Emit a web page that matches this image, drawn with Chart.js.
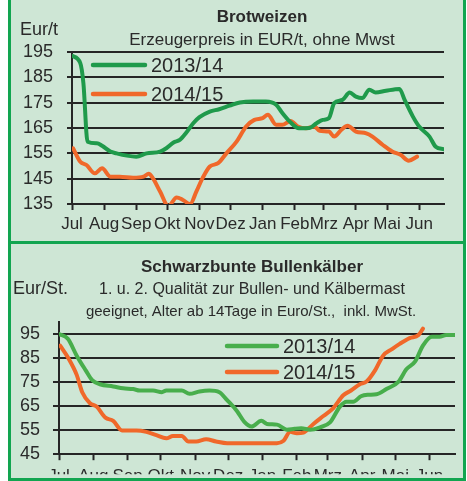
<!DOCTYPE html>
<html lang="de">
<head>
<meta charset="utf-8">
<title>Brotweizen / Bullenkälber</title>
<script src="https://cdn.jsdelivr.net/npm/chart.js@4.4.1/dist/chart.umd.min.js"></script>
<style>
    html, body { margin: 0; padding: 0; background: #ffffff; }
    .panel {
        position: absolute;
        left: 8px;
        width: 452px;
        background: #cee6d5;
        border-left: 3px solid #12a550;
        border-right: 3px solid #12a550;
        border-bottom: 3px solid #12a550;
        overflow: hidden;
    }
    #panelWeizen { top: 0; height: 241px; }
    #panelKaelber { top: 244px; height: 234px; }
    canvas { display: block; }
</style>
</head>
<body>
<div class="panel" id="panelWeizen"><canvas id="chartWeizen" width="452" height="241"></canvas></div>
<div class="panel" id="panelKaelber"><canvas id="chartKaelber" width="452" height="234"></canvas></div>

<script>
// Monate (Wirtschaftsjahr Juli - Juni), Position = Tag ab 1. Juli
const monthLabels = ['Jul', 'Aug', 'Sep', 'Okt', 'Nov', 'Dez', 'Jan', 'Feb', 'Mrz', 'Apr', 'Mai', 'Jun'];
const monthStartDays = [0, 31, 62, 92, 123, 153, 184, 215, 243, 274, 304, 335];
const seasonLabels = ['2013/14', '2014/15'];

// Brotweizen - Erzeugerpreis EUR/t
const weizenTicks = [135, 145, 155, 165, 175, 185, 195];
const weizenDays13 = [0, 8, 11, 15, 24, 29, 37, 43, 53, 62, 72, 85, 91, 98, 104, 110, 117, 123, 133, 142, 152, 162, 175, 187, 197, 203, 210, 219, 229, 236, 242, 248, 253, 261, 268, 274, 280, 287, 293, 303, 316, 321, 329, 335, 345, 351, 359];
const weizenPrice13 = [193.5, 190.6, 182.7, 159.6, 159, 158, 155.7, 155, 154.1, 153.7, 155, 155.7, 157, 159.3, 160.3, 163, 166.9, 169.3, 171.5, 172.4, 173.8, 175.1, 175.5, 175.5, 174.2, 170.9, 167.6, 164.9, 165, 166.9, 168.2, 168.9, 174.8, 176.1, 179, 177.4, 176.8, 180.1, 179, 179.7, 180.4, 176.1, 169.5, 165.6, 161.6, 157.6, 156.6];
const weizenDays14 = [1, 8, 14, 22, 29, 37, 46, 59, 69, 74, 78, 85, 93, 101, 107, 114, 120, 126, 133, 141, 149, 159, 168, 176, 184, 189, 197, 203, 211, 218, 226, 234, 239, 248, 253, 260, 266, 274, 284, 290, 300, 309, 317, 325, 333];
const weizenPrice14 = [157, 151.7, 150.4, 147.1, 149.1, 145.8, 145.8, 145.4, 145.8, 146.9, 145.2, 139.9, 134.2, 137.6, 136.6, 135, 139.9, 145.2, 149.8, 151.1, 155, 159.7, 165.6, 168.2, 168.9, 170.2, 166.3, 166.3, 167.8, 165.6, 164.9, 165.6, 163.9, 163.6, 161.6, 164.3, 165.9, 163.6, 162.9, 161.6, 158.3, 155.7, 154.4, 152.1, 153.7];

// Schwarzbunte Bullenkälber - Euro/St.
const kaelberTicks = [45, 55, 65, 75, 85, 95];
const kaelberDays13 = [0, 8, 16, 24, 30, 37, 49, 58, 67, 73, 85, 93, 97, 111, 118, 127, 136, 145, 152, 161, 168, 174, 183, 188, 197, 206, 213, 219, 227, 236, 245, 254, 260, 266, 273, 279, 287, 296, 307, 314, 322, 329, 337, 344, 350, 358];
const kaelberPrice13 = [95, 93, 86, 80, 75.8, 74.1, 73.2, 72.4, 72.1, 71.5, 71.5, 70.8, 71.5, 71.5, 70.1, 71.1, 71.5, 70.8, 67.5, 62.9, 58.2, 56.5, 58.9, 57.6, 57.3, 55.2, 55.6, 55.8, 55.2, 56.2, 58.2, 64.8, 66.8, 66.8, 69.1, 69.7, 69.9, 72.1, 75.2, 80.3, 83.6, 90.2, 93.9, 93.9, 94.6, 94.6];
const kaelberDays14 = [1, 8, 16, 21, 28, 34, 42, 49, 57, 70, 79, 88, 97, 103, 111, 117, 124, 133, 142, 152, 176, 197, 203, 209, 215, 221, 230, 239, 248, 257, 264, 272, 278, 286, 293, 301, 308, 317, 325, 329];
const kaelberPrice14 = [90.2, 85.3, 78, 70.8, 66.2, 64.8, 60.2, 58.9, 54.9, 54.9, 54.3, 52.9, 51.6, 52.6, 52.6, 50.3, 50.3, 51.2, 50.3, 49.6, 49.6, 49.6, 50.6, 54.3, 53.7, 54, 57.6, 60.9, 64.2, 69.5, 71.5, 74.1, 75.2, 80.1, 86, 88.7, 90.9, 93.3, 94.6, 97.2];

const FONT = "'Liberation Sans', Arial, sans-serif";
const TEXT_COLOR = '#2a2a2a';
const GRID_COLOR = '#262626';
const ORANGE = '#f0682a';

function toPoints(days, values) {
    return days.map((d, i) => ({ x: d, y: values[i] }));
}

// Titel, Einheit und Legende (Legende liegt im Diagramm)
const textPlugin = {
    id: 'panelTexts',
    afterDraw(chart, args, opts) {
        const ctx = chart.ctx;
        ctx.save();
        ctx.fillStyle = TEXT_COLOR;
        ctx.textBaseline = 'middle';
        (opts.texts || []).forEach(t => {
            ctx.font = (t.bold ? 'bold ' : '') + t.size + 'px ' + FONT;
            ctx.textAlign = t.align || 'left';
            ctx.fillText(t.text, t.x, t.y);
        });
        const lg = opts.legend;
        if (lg) {
            chart.data.datasets.forEach((ds, i) => {
                const y = lg.y + i * lg.gap;
                ctx.strokeStyle = ds.borderColor;
                ctx.lineWidth = 4.5;
                ctx.lineCap = 'round';
                ctx.beginPath();
                ctx.moveTo(lg.x, y);
                ctx.lineTo(lg.x + lg.len, y);
                ctx.stroke();
                ctx.font = lg.size + 'px ' + FONT;
                ctx.textAlign = 'left';
                ctx.fillStyle = TEXT_COLOR;
                ctx.fillText(ds.label, lg.x + lg.len + 6, y + 1);
            });
        }
        ctx.restore();
    }
};

function buildChart(canvasId, cfg) {
    const canvas = document.getElementById(canvasId);
    const lineStyle = {
        borderWidth: 4,
        pointRadius: 0,
        cubicInterpolationMode: 'monotone',
        borderJoinStyle: 'round',
        borderCapStyle: 'round'
    };
    return new Chart(canvas.getContext('2d'), {
        type: 'line',
        data: {
            datasets: [
                Object.assign({ label: seasonLabels[0], data: cfg.series13, borderColor: cfg.green }, lineStyle),
                Object.assign({ label: seasonLabels[1], data: cfg.series14, borderColor: ORANGE }, lineStyle)
            ]
        },
        options: {
            responsive: false,
            animation: false,
            layout: { padding: cfg.padding },
            plugins: {
                legend: { display: false },
                tooltip: { enabled: false },
                title: { display: false },
                panelTexts: { texts: cfg.texts, legend: cfg.legend }
            },
            scales: {
                x: {
                    type: 'linear',
                    min: 0,
                    max: cfg.xMax,
                    afterBuildTicks: axis => { axis.ticks = monthStartDays.map(v => ({ value: v })); },
                    afterFit: axis => { axis.height = cfg.xHeight; },
                    ticks: {
                        autoSkip: false,
                        maxRotation: 0,
                        padding: cfg.xPad,
                        color: TEXT_COLOR,
                        font: { family: FONT, size: 17 },
                        callback: (value, i) => monthLabels[i]
                    },
                    grid: {
                        drawOnChartArea: false,
                        tickLength: 6,
                        tickWidth: 2,
                        tickColor: GRID_COLOR
                    },
                    border: { display: true, color: GRID_COLOR, width: 2 }
                },
                y: {
                    min: cfg.yMin,
                    max: cfg.yMax,
                    afterBuildTicks: axis => { axis.ticks = cfg.yTicks.map(v => ({ value: v })); },
                    afterFit: axis => { axis.width = cfg.yWidth; },
                    ticks: {
                        autoSkip: false,
                        padding: cfg.yPad,
                        color: TEXT_COLOR,
                        font: { family: FONT, size: 18 }
                    },
                    grid: {
                        color: GRID_COLOR,
                        lineWidth: 2,
                        tickLength: cfg.yTickLen
                    },
                    border: { display: true, color: GRID_COLOR, width: 2 }
                }
            }
        },
        plugins: [textPlugin]
    });
}

buildChart('chartWeizen', {
    series13: toPoints(weizenDays13, weizenPrice13),
    series14: toPoints(weizenDays14, weizenPrice14),
    green: '#1f9a4b',
    xMax: 359,
    yMin: 135,
    yMax: 195,
    yTicks: weizenTicks,
    padding: { top: 52, right: 19, bottom: 7, left: 0 },
    xHeight: 30,
    xPad: 4,
    yWidth: 61,
    yPad: 14,
    yTickLen: 5,
    texts: [
        { text: 'Brotweizen', x: 251, y: 17, size: 17, bold: true, align: 'center' },
        { text: 'Erzeugerpreis in EUR/t, ohne Mwst', x: 251, y: 40, size: 17, align: 'center' },
        { text: 'Eur/t', x: 9, y: 30, size: 18 }
    ],
    legend: { x: 82, y: 65, gap: 29, len: 52, size: 20 }
});

buildChart('chartKaelber', {
    series13: toPoints(kaelberDays13, kaelberPrice13),
    series14: toPoints(kaelberDays14, kaelberPrice14),
    green: '#48ae4c',
    xMax: 358,
    yMin: 45,
    yMax: 100,
    yTicks: kaelberTicks,
    padding: { top: 78, right: 8, bottom: 1, left: 0 },
    xHeight: 20,
    xPad: 6,
    yWidth: 48,
    yPad: 13,
    yTickLen: 6,
    texts: [
        { text: 'Schwarzbunte Bullenkälber', x: 241, y: 23, size: 17, bold: true, align: 'center' },
        { text: 'Eur/St.', x: 2, y: 45, size: 18 },
        { text: '1. u. 2. Qualität zur Bullen- und Kälbermast', x: 241, y: 46, size: 16, align: 'center' },
        { text: 'geeignet, Alter ab 14Tage in Euro/St.,  inkl. MwSt.', x: 240, y: 68, size: 15, align: 'center' }
    ],
    legend: { x: 216, y: 102, gap: 26, len: 50, size: 20 }
});
</script>
</body>
</html>
